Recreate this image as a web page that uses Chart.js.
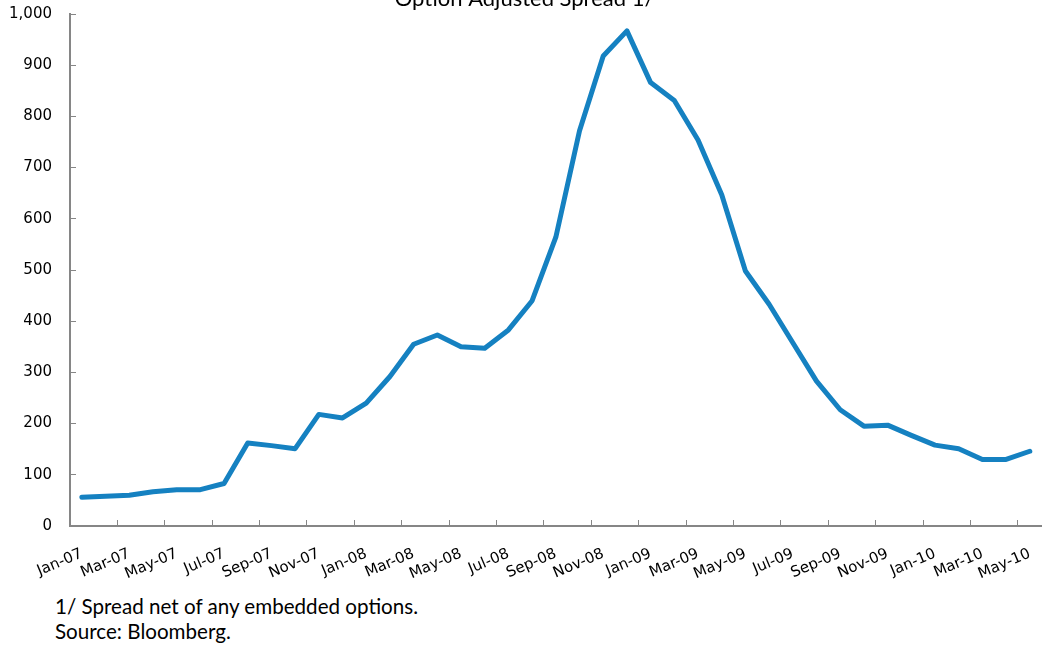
<!DOCTYPE html>
<html>
<head>
<meta charset="utf-8">
<script src="https://cdn.jsdelivr.net/npm/chart.js@4"></script>
<style>
  html, body { margin: 0; padding: 0; background: #fff; }
  #wrap { position: relative; width: 1044px; height: 646px; overflow: hidden; background: #fff; }
  #oas { position: absolute; left: 0; top: -19px; }
  .note { position: absolute; left: 55px; font-family: Lato, "Open Sans", sans-serif; font-size: 20.6px; color: #000; white-space: nowrap; }
</style>
</head>
<body>
<div id="wrap">
  <canvas id="oas" width="1062" height="605"></canvas>
  <div class="note" style="top:594px">1/ Spread net of any embedded options.</div>
  <div class="note" style="top:619px">Source: Bloomberg.</div>
</div>
<script>
const months = [
    'Jan-07', 'Feb-07', 'Mar-07', 'Apr-07', 'May-07', 'Jun-07', 'Jul-07', 'Aug-07', 'Sep-07', 'Oct-07', 'Nov-07', 'Dec-07',
    'Jan-08', 'Feb-08', 'Mar-08', 'Apr-08', 'May-08', 'Jun-08', 'Jul-08', 'Aug-08', 'Sep-08', 'Oct-08', 'Nov-08', 'Dec-08',
    'Jan-09', 'Feb-09', 'Mar-09', 'Apr-09', 'May-09', 'Jun-09', 'Jul-09', 'Aug-09', 'Sep-09', 'Oct-09', 'Nov-09', 'Dec-09',
    'Jan-10', 'Feb-10', 'Mar-10', 'Apr-10', 'May-10'
];
// option adjusted spread, basis points
const spread = [
    56, 58, 60, 67, 71, 71, 83, 162, 157, 151, 218, 211,
    240, 292, 355, 373, 350, 347, 383, 440, 564, 772, 918, 967,
    866, 831, 754, 647, 498, 433, 358, 283, 227, 195, 197, 177,
    158, 151, 130, 130, 146
];
const yTicks = [0, 100, 200, 300, 400, 500, 600, 700, 800, 900, 1000];

const axisGrey = '#868686';
const tickFont = { family: 'Verdana, "DejaVu Sans", sans-serif', size: 15 };

const chart = new Chart(document.getElementById('oas'), {
    type: 'line',
    data: {
        labels: months,
        datasets: [{
            label: 'Option Adjusted Spread',
            data: spread,
            borderColor: '#1581c1',
            borderWidth: 5,
            borderJoinStyle: 'round',
            borderCapStyle: 'round',
            pointRadius: 0,
            tension: 0,
            fill: false
        }]
    },
    options: {
        responsive: false,
        animation: false,
        devicePixelRatio: 1,
        layout: { padding: { left: 0, right: 13, top: 0, bottom: 0 } },
        plugins: {
            legend: { display: false },
            tooltip: { enabled: false },
            title: {
                display: true,
                text: 'Option Adjusted Spread 1/',
                color: '#000',
                font: { family: 'Lato', size: 22, weight: 'normal' },
                padding: { top: 0, bottom: 2 }
            }
        },
        scales: {
            x: {
                offset: true,
                border: { color: axisGrey, width: 2 },
                grid: {
                    offset: true,
                    drawOnChartArea: false,
                    drawTicks: true,
                    tickLength: -6,
                    tickWidth: 1,
                    tickColor: ctx => (ctx.index % 2 === 0 ? axisGrey : 'rgba(0,0,0,0)')
                },
                ticks: {
                    autoSkip: false,
                    minRotation: 23,
                    maxRotation: 23,
                    padding: 25,
                    color: '#000',
                    font: tickFont,
                    callback: function (value, index) {
                        return index % 2 === 0 ? this.getLabelForValue(value) : '';
                    }
                },
                afterFit: scale => { scale.height = 60; }
            },
            y: {
                min: 0,
                max: 1000,
                border: { color: axisGrey, width: 2 },
                grid: {
                    drawOnChartArea: false,
                    drawTicks: true,
                    tickLength: -6,
                    tickWidth: 1,
                    tickColor: axisGrey
                },
                afterBuildTicks: scale => {
                    scale.ticks = yTicks.map(v => ({ value: v }));
                },
                ticks: {
                    padding: 24,
                    color: '#000',
                    font: tickFont,
                    callback: v => v.toLocaleString('en-US')
                },
                afterFit: scale => { scale.width = 70; }
            }
        }
    }
});
</script>
</body>
</html>
